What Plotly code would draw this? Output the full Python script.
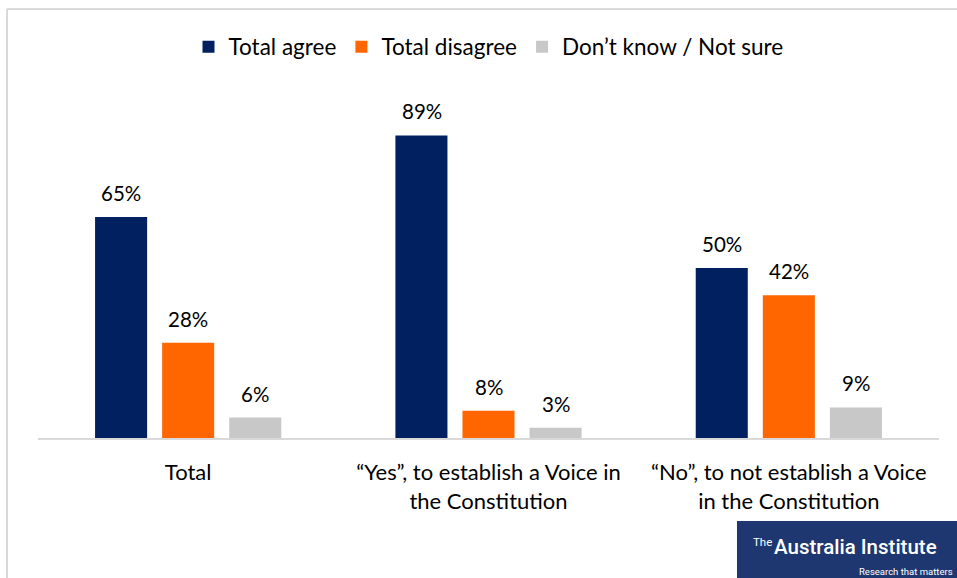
import plotly.graph_objects as go

categories = ["Total", "“Yes”, to establish a Voice in<br>the Constitution",
              "“No”, to not establish a Voice<br>in the Constitution"]
series_names = ["Total agree", "Total disagree", "Don’t know / Not sure"]
agree = [65, 89, 50]
disagree = [28, 8, 42]
dont_know = [6, 3, 9]
colors = ["#002060", "#FF6600", "#C8C8C8"]

FONT = "Lato"
W, H = 957, 578
ML, MR, MT, MB = 38, 18, 90, 140
plot_w = W - ML - MR
plot_h = H - MT - MB
ymax = plot_h / 3.4

fig = go.Figure()
all_vals = [agree, disagree, dont_know]
for name, vals, col in zip(series_names, all_vals, colors):
    fig.add_trace(go.Bar(x=categories, y=vals, name=name, marker_color=col,
                         marker_line_width=0, hoverinfo="skip"))

# data labels
offsets = [-67, 0, 67]
for vals, dx in zip(all_vals, offsets):
    for c, v in zip(categories, vals):
        fig.add_annotation(x=c, y=v, text=f"{v}%", showarrow=False,
                           xshift=dx, yshift=10, yanchor="bottom",
                           font=dict(family=FONT, size=20.5, color="#000000"))

def px_x(p):
    return (p - ML) / plot_w

def px_y(p):
    return (H - MB - p) / plot_h

# chart border (left and top)
fig.add_shape(type="line", xref="paper", yref="paper",
              x0=px_x(7), x1=px_x(7), y0=px_y(9), y1=px_y(580),
              line=dict(color="#D9D9D9", width=2))
fig.add_shape(type="line", xref="paper", yref="paper",
              x0=px_x(7), x1=px_x(960), y0=px_y(9), y1=px_y(9),
              line=dict(color="#D9D9D9", width=2))

# logo
fig.add_shape(type="rect", xref="paper", yref="paper",
              x0=px_x(737), x1=px_x(960), y0=px_y(580), y1=px_y(521),
              fillcolor="#1E3770", line_width=0, layer="above")
fig.add_annotation(xref="paper", yref="paper", x=px_x(772), y=px_y(547),
                   xanchor="left", yanchor="middle", showarrow=False,
                   text="Australia Institute",
                   font=dict(family="Roboto", size=20.5, weight=500, color="#FFFFFF"))
fig.add_annotation(xref="paper", yref="paper", x=px_x(774), y=px_y(542),
                   xanchor="right", yanchor="middle", showarrow=False,
                   text="The",
                   font=dict(family="Roboto", size=11.5, color="#FFFFFF"))
fig.add_annotation(xref="paper", yref="paper", x=px_x(955), y=px_y(571),
                   xanchor="right", yanchor="middle", showarrow=False,
                   text="Research that matters",
                   font=dict(family="Roboto", size=9.5, color="#FFFFFF"))

fig.update_layout(
    width=W, height=H,
    margin=dict(l=ML, r=MR, t=MT, b=MB, autoexpand=False),
    paper_bgcolor="#FFFFFF", plot_bgcolor="#FFFFFF",
    barmode="group", bargap=0.33, bargroupgap=0.224,
    font=dict(family=FONT, size=22, color="#000000"),
    showlegend=True,
    legend=dict(orientation="h", x=0.5, xanchor="center", y=px_y(47),
                yanchor="middle", font=dict(family=FONT, size=22.5),
                itemwidth=30, traceorder="normal"),
)
fig.update_xaxes(showline=True, linecolor="#D9D9D9", linewidth=2,
                 ticks="", showgrid=False, ticklabelstandoff=14,
                 tickfont=dict(family=FONT, size=22))
fig.update_yaxes(range=[0, ymax], visible=False, showgrid=False)

fig.write_html("out.html", config={"displayModeBar": False},
               post_script="document.body.style.margin='0';document.body.style.overflow='hidden';")
